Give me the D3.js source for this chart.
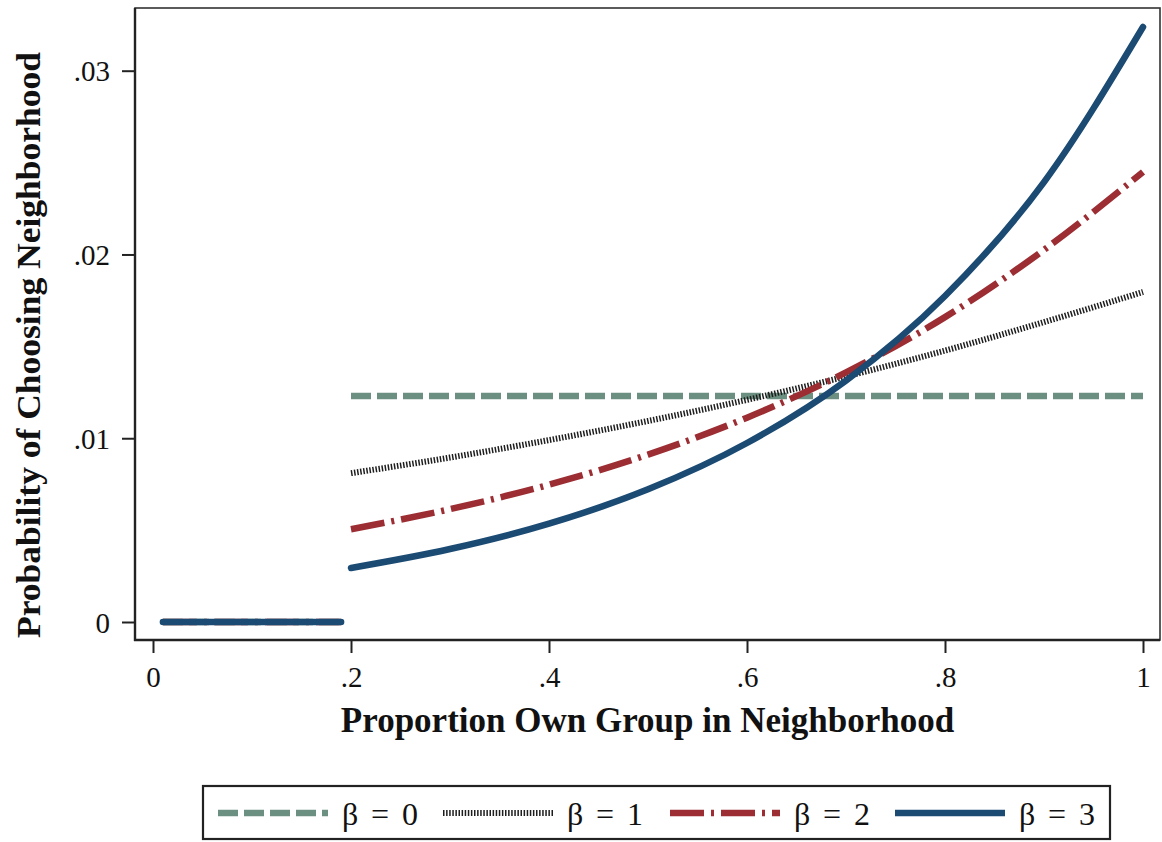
<!DOCTYPE html>
<html>
<head>
<meta charset="utf-8">
<script src="https://cdn.jsdelivr.net/npm/d3@7/dist/d3.min.js"></script>
<style>
  html, body { margin: 0; padding: 0; background: #fff; }
  svg { display: block; }
  text { font-family: "Liberation Serif", "Times New Roman", serif; fill: #111; }
</style>
</head>
<body>
<svg id="chart" width="1162" height="842"></svg>
<script>
// Share of own group in the neighborhood where the choice probability is zero
const lowShare = [0.01, 0.19];
const lowProb = [0, 0];

// Share of own group from the threshold upward
const highShare = [0.2, 0.3, 0.4, 0.5, 0.6, 0.7, 0.8, 0.9, 1.0];

// Probability of choosing the neighborhood for each preference strength
const beta0 = [0.0123, 0.0123, 0.0123, 0.0123, 0.0123, 0.0123, 0.0123, 0.0123, 0.0123];
const beta1 = [0.0081, 0.00895, 0.0099, 0.01094, 0.01209, 0.01336, 0.01477, 0.01632, 0.01796];
const beta2 = [0.00505, 0.00614, 0.00747, 0.00911, 0.01112, 0.01358, 0.01659, 0.02025, 0.02449];
const beta3 = [0.00294, 0.00397, 0.00535, 0.00722, 0.00974, 0.01314, 0.01774, 0.02394, 0.03238];

const seriesNames = ["β = 0", "β = 1", "β = 2", "β = 3"];

const xTickValues = [0, 0.2, 0.4, 0.6, 0.8, 1];
const xTickLabels = ["0", ".2", ".4", ".6", ".8", "1"];
const yTickValues = [0, 0.01, 0.02, 0.03];
const yTickLabels = ["0", ".01", ".02", ".03"];

const xTitle = "Proportion Own Group in Neighborhood";
const yTitle = "Probability of Choosing Neighborhood";

// Line styles per series
const styles = [
  { color: "#6b8f80", width: 6.5, dash: "20,6", cap: "butt" },
  { color: "#1e1e1e", width: 6, dash: "1.5,1.6", cap: "butt" },
  { color: "#9b2d33", width: 6.5, dash: "34,7,3,7", cap: "butt" },
  { color: "#1b4a73", width: 6.5, dash: null, cap: "round" }
];

const svg = d3.select("#chart");

const frame = { left: 135, right: 1160, top: 8, bottom: 640 };

const x = d3.scaleLinear().domain([0, 1]).range([153, 1143]);
const y = d3.scaleLinear().domain([0, 0.03]).range([622, 70.7]);

// Plot frame
svg.append("rect")
  .attr("x", frame.left).attr("y", frame.top)
  .attr("width", frame.right - frame.left)
  .attr("height", frame.bottom - frame.top)
  .attr("fill", "none")
  .attr("stroke", "#333")
  .attr("stroke-width", 1.6);

// Y axis
const yAxis = d3.axisLeft(y)
  .tickValues(yTickValues)
  .tickSize(13)
  .tickPadding(12)
  .tickFormat((d, i) => yTickLabels[i]);
const gy = svg.append("g").attr("transform", `translate(${frame.left},0)`).call(yAxis);
gy.select(".domain").remove();
gy.selectAll(".tick line").attr("stroke", "#222").attr("stroke-width", 2);
gy.selectAll(".tick text")
  .attr("font-size", 29)
  .attr("dy", "0.35em")
  .attr("x", -25)
  .style("font-family", "'Liberation Serif', serif")
  .attr("fill", "#111");

// X axis
const xAxis = d3.axisBottom(x)
  .tickValues(xTickValues)
  .tickSize(13)
  .tickFormat((d, i) => xTickLabels[i]);
const gx = svg.append("g").attr("transform", `translate(0,${frame.bottom})`).call(xAxis);
gx.select(".domain").remove();
gx.selectAll(".tick line").attr("stroke", "#222").attr("stroke-width", 2);
gx.selectAll(".tick text")
  .attr("font-size", 29)
  .attr("y", 47)
  .attr("dy", 0)
  .style("font-family", "'Liberation Serif', serif")
  .attr("fill", "#111");

// Left and bottom axis lines drawn heavier than the frame
svg.append("line")
  .attr("x1", frame.left).attr("x2", frame.left)
  .attr("y1", frame.top).attr("y2", frame.bottom + 1)
  .attr("stroke", "#222").attr("stroke-width", 2.4);
svg.append("line")
  .attr("x1", frame.left - 1).attr("x2", frame.right)
  .attr("y1", frame.bottom).attr("y2", frame.bottom)
  .attr("stroke", "#222").attr("stroke-width", 2.4);

// Axis titles
svg.append("text")
  .attr("x", (frame.left + frame.right) / 2)
  .attr("y", 732)
  .attr("text-anchor", "middle")
  .attr("font-size", 35)
  .attr("font-weight", "bold")
  .text(xTitle);

svg.append("text")
  .attr("transform", "translate(40,345) rotate(-90)")
  .attr("text-anchor", "middle")
  .attr("font-size", 33)
  .attr("font-weight", "bold")
  .attr("textLength", 586)
  .attr("lengthAdjust", "spacingAndGlyphs")
  .text(yTitle);

// Curves
const line = d3.line()
  .x(d => x(d[0]))
  .y(d => y(d[1]))
  .curve(d3.curveMonotoneX);

const allSeries = [beta0, beta1, beta2, beta3];

allSeries.forEach((vals, i) => {
  const st = styles[i];
  const segs = [
    lowShare.map((s, k) => [s, lowProb[k]]),
    highShare.map((s, k) => [s, vals[k]])
  ];
  segs.forEach(seg => {
    svg.append("path")
      .attr("d", line(seg))
      .attr("fill", "none")
      .attr("stroke", st.color)
      .attr("stroke-width", st.width)
      .attr("stroke-linecap", st.cap)
      .attr("stroke-dasharray", st.dash);
  });
});

// Legend
const legend = svg.append("g");
legend.append("rect")
  .attr("x", 203).attr("y", 786)
  .attr("width", 907).attr("height", 53)
  .attr("fill", "#fff")
  .attr("stroke", "#222")
  .attr("stroke-width", 2.2);

const sampleX = [218, 443, 670, 895];
const sampleLen = 110;
const legendY = 813;

seriesNames.forEach((name, i) => {
  const st = styles[i];
  legend.append("line")
    .attr("x1", sampleX[i]).attr("x2", sampleX[i] + sampleLen)
    .attr("y1", legendY).attr("y2", legendY)
    .attr("stroke", st.color)
    .attr("stroke-width", st.width)
    .attr("stroke-dasharray", st.dash);
  legend.append("text")
    .attr("x", sampleX[i] + sampleLen + 14)
    .attr("y", 825)
    .attr("font-size", 32)
    .attr("textLength", 76)
    .attr("lengthAdjust", "spacing")
    .attr("fill", "#222")
    .text(name);
});
</script>
</body>
</html>
